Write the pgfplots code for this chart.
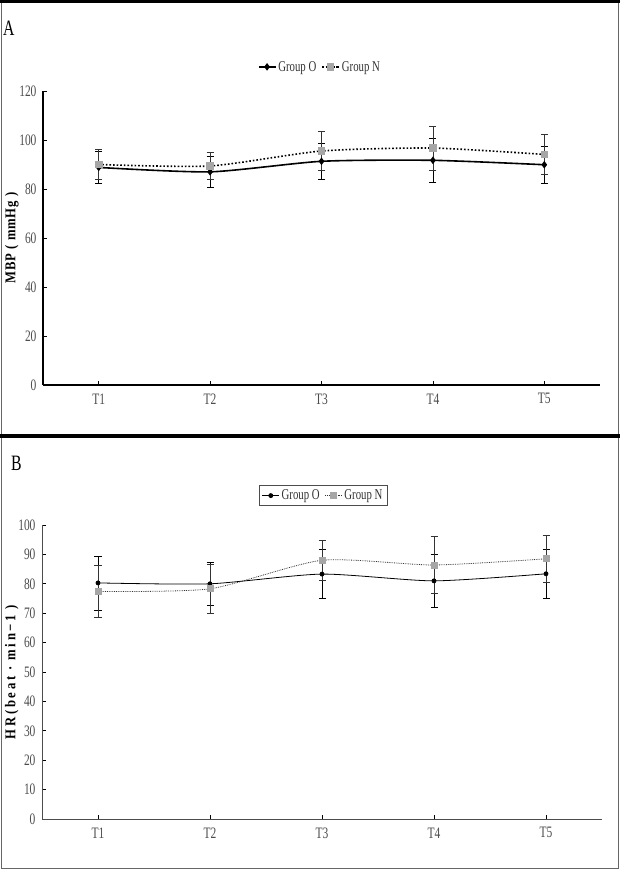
\documentclass[border=0pt]{standalone}
\usepackage{fontspec}
\setmainfont{Liberation Serif}[FakeStretch=0.72]
\newfontfamily\labfont{Liberation Serif}[FakeStretch=0.85]
\usepackage{pgfplots}
\pgfplotsset{compat=1.18}
\definecolor{ngray}{HTML}{A6A6A6}
\pgfplotsset{
  myax/.style={
    scale only axis,
    axis lines*=left,
    xmin=0.5, xmax=5.5,
    xtick={1,2,3,4,5},
    xticklabels={T1,T2,T3,T4,T5},
    tick align=inside,
    major tick length=4bp,
    tick style={black, line width=0.6bp},
    /pgf/number format/assume math mode=true,
    tick label style={font=\fontsize{16}{18}\selectfont, text=black!70},
    xticklabel style={yshift=-5bp},
    yticklabel style={xshift=-3bp},
    legend cell align=left,
    legend style={font=\fontsize{15}{17}\selectfont, text=black!80, legend columns=2,
      /tikz/every even column/.append style={column sep=3bp},
      inner sep=2.5bp},
    clip=false,
  },
  errO/.style={error bars/.cd, y dir=both, y explicit,
      error mark options={rotate=90, mark size=3.5bp, line width=0.6bp, black, solid},
      error bar style={line width=0.6bp, black, solid}},
  errN/.style={error bars/.cd, y dir=both, y explicit,
      error mark options={rotate=90, mark size=3.5bp, line width=0.6bp, black!80, solid},
      error bar style={line width=0.6bp, black!80, solid}},
}
\begin{document}
\begin{tikzpicture}
\useasboundingbox (0bp,0bp) rectangle (620bp,871bp);
% frames
\draw[black!60, line width=1bp] (1bp,871bp) -- (1bp,2bp) -- (618bp,2bp) -- (618bp,871bp);
\draw[black, line width=3.5bp] (0bp,869.5bp) -- (620bp,869.5bp);
\draw[black, line width=3.5bp] (0bp,435bp) -- (620bp,435bp);
\node[anchor=north west, inner sep=0pt, font=\fontsize{22}{24}\selectfont] at (3bp,850bp) {A};
\node[anchor=north west, inner sep=0pt, font=\fontsize{22}{24}\selectfont] at (11bp,415bp) {B};

% Panel A
\begin{axis}[myax,
  at={(43bp,486bp)}, anchor=south west,
  width=557bp, height=294bp,
  ymin=0, ymax=120, ytick={0,20,...,120},
  axis line style={line width=1.5bp, black},
  ylabel={\labfont\addfontfeatures{LetterSpace=6}\bfseries MBP ( mmHg )},
  ylabel style={at={(axis description cs:-0.056,0.5)}, anchor=center, font=\fontsize{15}{17}\selectfont},
  legend style={draw=none, at={(0.497,1.082)}, anchor=center},
]
\addplot[black, line width=1.6bp, smooth, tension=0.4, mark=diamond*, mark size=2.5bp, mark options={solid}, errO]
  coordinates {(1,88.8) +- (0,6.5) (2,87.0) +- (0,6.5) (3,91.3) +- (0,7.5) (4,91.7) +- (0,9.1) (5,89.9) +- (0,7.6)};
\addlegendentry{Group O}
\addplot[black, line width=1.6bp, dotted, smooth, tension=0.4, mark=square*, mark size=3bp, mark options={solid, fill=ngray, draw=ngray}, errN]
  coordinates {(1,90.0) +- (0,6.0) (2,89.4) +- (0,5.5) (3,95.5) +- (0,8.0) (4,96.7) +- (0,9.0) (5,94.1) +- (0,8.1)};
\addlegendentry{Group N}
\end{axis}

% Panel B
\begin{axis}[myax,
  at={(42bp,52bp)}, anchor=south west,
  width=560bp, height=294bp,
  ymin=0, ymax=100, ytick={0,10,...,100},
  axis line style={line width=0.8bp, black!70},
  ylabel={\labfont\addfontfeatures{LetterSpace=18}\bfseries HR(beat · min−1 )},
  ylabel style={at={(axis description cs:-0.054,0.5)}, anchor=center, font=\fontsize{15}{17}\selectfont},
  legend style={draw=black!70, line width=0.6bp, at={(0.502,1.10)}, anchor=center},
]
\addplot[black, line width=0.8bp, smooth, tension=0.4, mark=*, mark size=2bp, mark options={solid}, errO]
  coordinates {(1,80.3) +- (0,9.2) (2,80.0) +- (0,7.4) (3,83.3) +- (0,8.3) (4,81.0) +- (0,9.0) (5,83.4) +- (0,8.3)};
\addlegendentry{Group O}
\addplot[black!80, line width=0.8bp, densely dotted, smooth, tension=0.4, mark=square*, mark size=3bp, mark options={solid, fill=ngray, draw=ngray}, errN]
  coordinates {(1,77.4) +- (0,8.8) (2,78.3) +- (0,8.5) (3,88.0) +- (0,6.7) (4,86.4) +- (0,9.7) (5,88.5) +- (0,8.0)};
\addlegendentry{Group N}
\end{axis}
\end{tikzpicture}
\end{document}
